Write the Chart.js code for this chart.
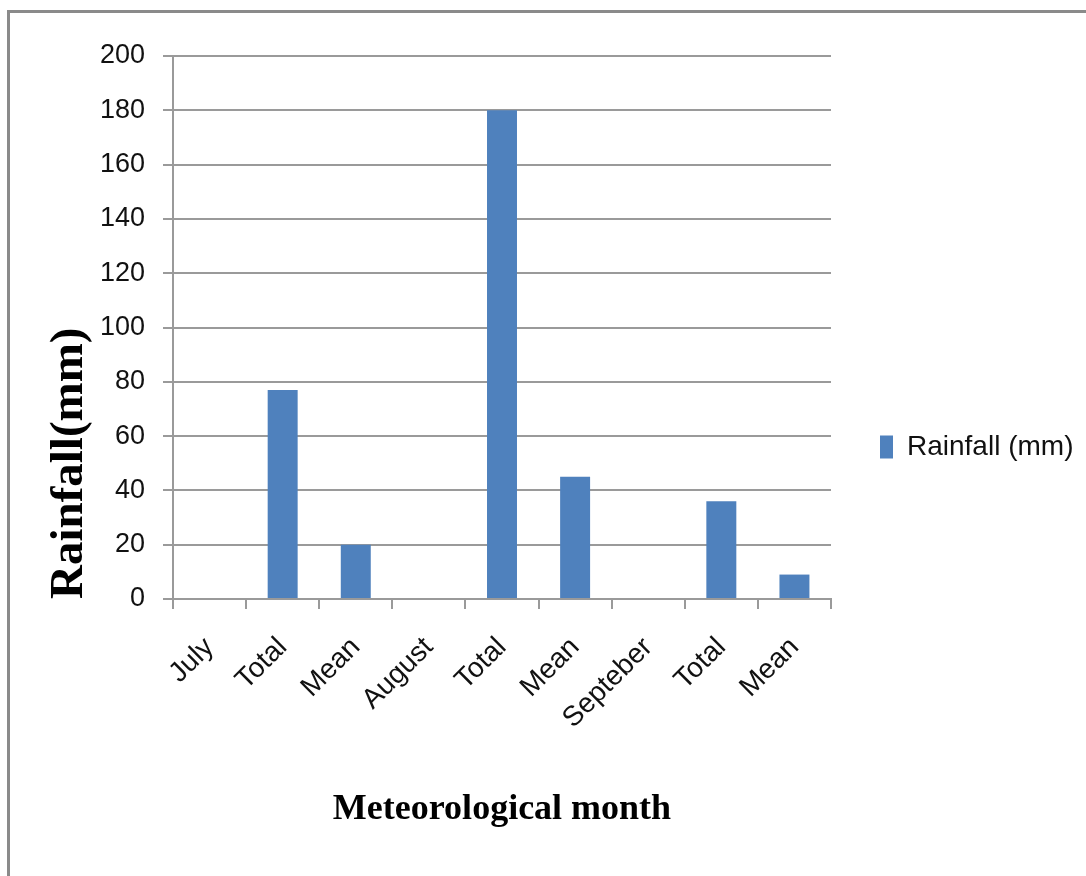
<!DOCTYPE html>
<html>
<head>
<meta charset="utf-8">
<script src="https://cdn.jsdelivr.net/npm/chart.js@4/dist/chart.umd.min.js"></script>
<style>
  html, body { margin: 0; padding: 0; background: #fff; }
  #wrap { position: relative; width: 1086px; height: 876px; overflow: hidden; }
  #frame { position: absolute; left: 7px; top: 10px; width: 1200px; height: 1000px;
           border-top: 3px solid #8a8a8a; border-left: 3px solid #8a8a8a; box-sizing: border-box; pointer-events: none; }
  canvas { position: absolute; left: 0; top: 0; }
</style>
</head>
<body>
<div id="wrap">
  <canvas id="c" width="1086" height="876"></canvas>
  <div id="frame"></div>
</div>
<script>
const categories = ["July", "Total", "Mean", "August", "Total", "Mean", "Septeber", "Total", "Mean"];
const rainfall = [null, 77, 20, null, 180, 45, null, 36, 9];
const seriesName = "Rainfall (mm)";
const yTicks = [0, 20, 40, 60, 80, 100, 120, 140, 160, 180, 200];
const yTitle = "Rainfall(mm)";
const xTitle = "Meteorological month";

const tickFont = { family: "'Liberation Sans', Arial, sans-serif", size: 27 };
const gridColor = "#9a9a9a";

const legendWidthPlugin = {
  id: "legendWidth",
  beforeLayout(chart) {
    const lg = chart.legend;
    if (lg && !lg._patched) {
      const f = lg.fit.bind(lg);
      lg.fit = function () { f(); this.width = 1086 - 831; };
      const d = lg.draw.bind(lg);
      lg.draw = function () {
        const ctx = this.ctx;
        ctx.save();
        ctx.translate(0, -19);
        d();
        ctx.restore();
      };
      lg._patched = true;
    }
  }
};

new Chart(document.getElementById("c"), {
  type: "bar",
  data: {
    labels: categories,
    datasets: [{
      label: seriesName,
      data: rainfall,
      backgroundColor: "#4F81BD",
      borderWidth: 0,
      barPercentage: 0.41,
      categoryPercentage: 1.0
    }]
  },
  plugins: [legendWidthPlugin],
  options: {
    responsive: false,
    animation: false,
    devicePixelRatio: 1,
    layout: { padding: { left: 12, top: 56, right: 0, bottom: 0 } },
    plugins: {
      tooltip: { enabled: false },
      legend: {
        position: "right",
        labels: {
          font: { family: "'Liberation Sans', Arial, sans-serif", size: 28 },
          color: "#111",
          boxWidth: 13,
          boxHeight: 23,
          padding: 49
        }
      }
    },
    scales: {
      x: {
        grid: { offset: true, drawOnChartArea: false, color: gridColor, lineWidth: 2, tickLength: 10 },
        border: { color: gridColor, width: 2 },
        ticks: { font: { family: "'Liberation Sans', Arial, sans-serif", size: 28 }, color: "#111", maxRotation: 45, minRotation: 45, padding: 22 },
        title: { display: true, text: xTitle, color: "#000",
                 font: { family: "'Liberation Serif', 'Times New Roman', serif", size: 36, weight: "bold" },
                 padding: { top: 0, bottom: 45 } },
        afterFit: (s) => { s.height = 876 - 599; }
      },
      y: {
        min: 0, max: 200,
        afterBuildTicks: (s) => { s.ticks = yTicks.map(v => ({ value: v })); },
        grid: { color: gridColor, lineWidth: 2, tickLength: 10 },
        border: { color: gridColor, width: 2 },
        ticks: { font: tickFont, color: "#111", padding: 18 },
        title: { display: true, text: yTitle, color: "#000", align: "start",
                 font: { family: "'Liberation Serif', 'Times New Roman', serif", size: 47, weight: "bold" },
                 padding: { top: 30, bottom: 0 } },
        afterFit: (s) => { s.width = 173 - 12; }
      }
    }
  }
});
</script>
</body>
</html>
